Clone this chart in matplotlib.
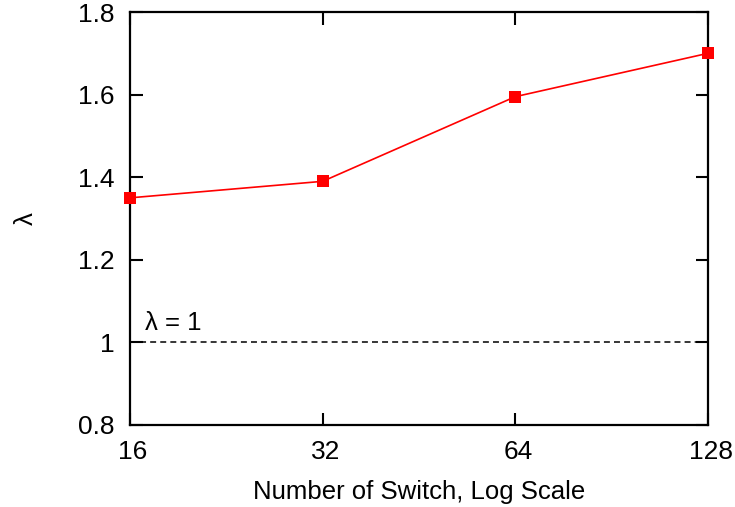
import numpy as np
import matplotlib
matplotlib.use('Agg')
import matplotlib.pyplot as plt
import matplotlib.transforms as mtransforms
from matplotlib.ticker import FixedLocator, NullLocator

plt.rcParams['font.family'] = ['Liberation Sans', 'DejaVu Sans']

# switch counts and measured lambda
switches = [16, 32, 64, 128]
lam = [1.35, 1.39, 1.595, 1.70]
x_ticks = [16, 32, 64, 128]
y_ticks = [0.8, 1.0, 1.2, 1.4, 1.6, 1.8]
y_tick_labels = ['0.8', '1', '1.2', '1.4', '1.6', '1.8']

fig = plt.figure(figsize=(7.35, 5.07), dpi=100)
ax = fig.add_axes([130 / 735, 1 - 425 / 507, 578 / 735, 413 / 507])

ax.plot(switches, lam, color='#ff0000', lw=1.2, marker='s', ms=8.5,
        markeredgewidth=0, zorder=3, clip_on=False)
ax.plot([16, 128], [1, 1], color='black', lw=1.1, ls=(0, (3.9, 2.7)))
ax.text(16.9, 1.03, 'λ = 1', fontsize=18.5, ha='left', va='baseline')

ax.set_xscale('log', base=2)
ax.set_xlim(16, 128)
ax.set_ylim(0.8, 1.8)
ax.xaxis.set_major_locator(FixedLocator(x_ticks))
ax.xaxis.set_minor_locator(NullLocator())
ax.set_xticklabels([str(v) for v in x_ticks])
ax.set_yticks(y_ticks)
ax.set_yticklabels(y_tick_labels)

ax.tick_params(direction='in', length=9, width=1.5, labelsize=19,
               top=True, right=True, pad=11)
for s in ax.spines.values():
    s.set_linewidth(1.6)

# nudge the x tick labels a little to the right
shift = mtransforms.ScaledTranslation(3 / 100, 0, fig.dpi_scale_trans)
for lbl in ax.get_xticklabels():
    lbl.set_transform(lbl.get_transform() + shift)

ax.set_xlabel('Number of Switch, Log Scale', fontsize=18.5, labelpad=11)
ax.set_ylabel('λ', fontsize=18.5, labelpad=29)

fig.savefig('out.png', dpi=100)
